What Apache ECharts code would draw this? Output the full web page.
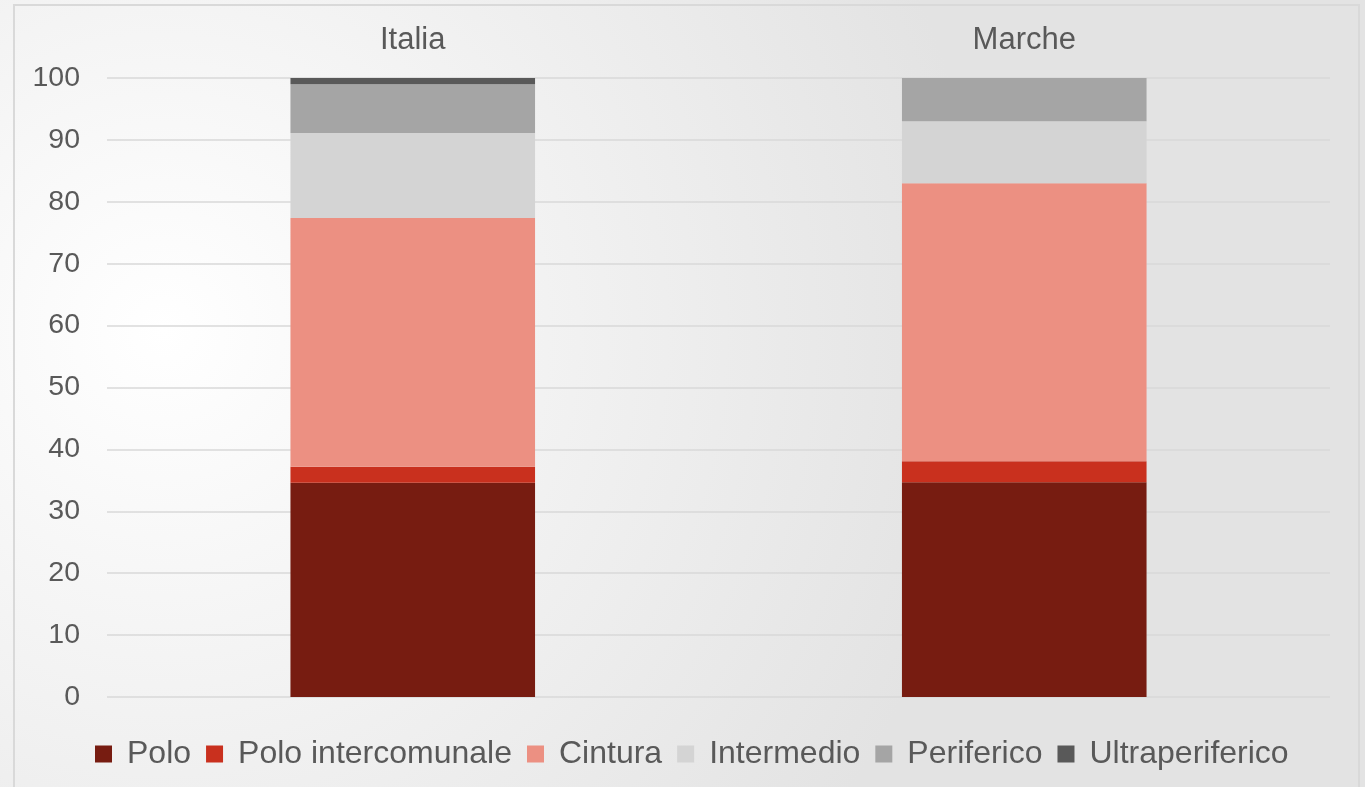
<!DOCTYPE html>
<html><head><meta charset="utf-8">
<script src="https://cdn.jsdelivr.net/npm/echarts@6/dist/echarts.min.js"></script>
<style>html,body{margin:0;padding:0;}#c{width:1365px;height:787px;}</style>
</head><body><div id="c"></div>
<script>
const categories = ['Italia', 'Marche'];
const seriesNames = ['Polo', 'Polo intercomunale', 'Cintura', 'Intermedio', 'Periferico', 'Ultraperiferico'];
const polo = [34.6, 34.7];
const poloIntercomunale = [2.6, 3.4];
const cintura = [40.2, 44.9];
const intermedio = [13.7, 10.0];
const periferico = [7.9, 7.0];
const ultraperiferico = [1.0, 0.0];
const yTicks = [0, 10, 20, 30, 40, 50, 60, 70, 80, 90, 100];
const colors = ['#771C11', '#C9301E', '#EC9082', '#D4D4D4', '#A5A5A5', '#595959'];
const values = [polo, poloIntercomunale, cintura, intermedio, periferico, ultraperiferico];

const chart = echarts.init(document.getElementById('c'));
const font = 'Liberation Sans, Arial, sans-serif';
chart.setOption({
  backgroundColor: {
    type: 'radial', x: 0.12, y: 0.42, r: 1.05,
    colorStops: [{offset: 0, color: '#ffffff'}, {offset: 1, color: '#e3e3e3'}]
  },
  animation: false,
  color: colors,
  graphic: [{
    type: 'rect', shape: {x: 14, y: 5, width: 1345, height: 800},
    style: {fill: 'none', stroke: '#d9d9d9', lineWidth: 2}, silent: true
  }],
  grid: {left: 107, right: 35, top: 78, bottom: 90},
  legend: {
    bottom: 12, left: 90,
    itemWidth: 17, itemHeight: 17, itemGap: 15,
    icon: 'rect',
    textStyle: {fontSize: 32, color: '#595959', fontFamily: font, padding: [0, 0, 0, 10]},
    data: seriesNames
  },
  xAxis: {
    type: 'category', data: categories, position: 'top',
    axisLine: {show: false}, axisTick: {show: false},
    axisLabel: {fontSize: 31, color: '#595959', fontFamily: font, margin: 22}
  },
  yAxis: {
    type: 'value', min: 0, max: 100, interval: 10,
    axisLine: {show: false}, axisTick: {show: false},
    axisLabel: {fontSize: 28.5, color: '#595959', fontFamily: font, margin: 27,
      formatter: v => yTicks.includes(v) ? String(v) : ''},
    splitLine: {lineStyle: {color: '#d9d9d9', width: 1.5}}
  },
  series: seriesNames.map((n, i) => ({
    name: n, type: 'bar', stack: 'total', barWidth: '40%',
    data: values[i],
    itemStyle: {color: colors[i]}
  }))
});
</script>
</body></html>
